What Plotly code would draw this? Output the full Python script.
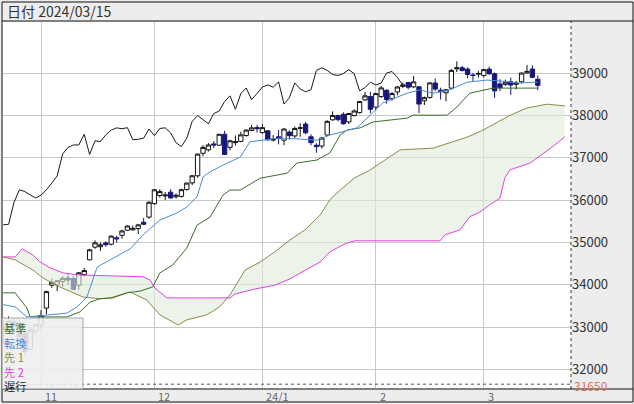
import plotly.graph_objects as go

# bar counter: 0 = 2023/11/01 (trading days only)
day_no = list(range(-7, 93))

opens = [33020, 32990, 33120, 33000, 32850, 32480, 32900,
         33050, 33450, 33990, 34000, 34080, 34160, 34150, 33990, 34240, 34590,
         34890, 34900, 34990, 34960, 35110, 35170, 35290, 35300, 35330, 35480, 35600,
         35920, 36110, 36100, 36190, 36080, 36090, 36250, 36410, 36577, 37110,
         37190, 37330, 37300, 37560, 37250, 37360, 37390, 37530, 37650, 37720,
         37600, 37640, 37420, 37500, 37420, 37610, 37520, 37700, 37800, 37500,
         37300, 37280, 37540, 37900, 38000, 38030, 37850, 38000, 38070, 38370, 38450,
         38200, 38450, 38600, 38400, 38560, 38690, 38780, 38680, 38680, 38350,
         38430, 38770, 38600, 38540, 38650, 39105, 39130, 39100, 38960, 38980,
         38950, 39100, 38990, 38750, 38740, 38800, 38740, 38800, 39010, 39100, 38860]
highs = [33160, 33250, 33200, 33160, 32950, 32980, 33060,
         33400, 33860, 34150, 34110, 34200, 34250, 34200, 34300, 34400, 34850,
         35050, 35000, 35030, 35160, 35160, 35300, 35400, 35400, 35440, 35580, 35970,
         36260, 36260, 36190, 36260, 36160, 36270, 36410, 36590, 37100, 37300,
         37350, 37400, 37570, 37640, 37430, 37530, 37620, 37680, 37780, 37780,
         37800, 37660, 37540, 37660, 37700, 37650, 37740, 37820, 37850, 37560,
         37350, 37500, 37890, 38100, 38020, 38080, 38060, 38150, 38340, 38560, 38560,
         38540, 38700, 38620, 38560, 38700, 38780, 38800, 38940, 38700, 38450,
         38790, 38880, 38660, 38620, 39100, 39282, 39180, 39140, 39010, 39060,
         39100, 39160, 39020, 38860, 38850, 38900, 38820, 39020, 39200, 39190, 38950]
lows = [32600, 32920, 32970, 32750, 32327, 32470, 32830,
        32950, 33300, 33930, 33850, 33950, 34000, 33870, 33880, 34200, 34580,
        34850, 34800, 34900, 34930, 35000, 35090, 35280, 35280, 35200, 35410, 35560,
        35890, 36060, 36000, 36040, 36040, 36060, 36230, 36360, 36530, 37040,
        37150, 37230, 37290, 37070, 37180, 37290, 37370, 37500, 37630, 37600,
        37570, 37400, 37390, 37320, 37300, 37430, 37470, 37500, 37560, 37300,
        37120, 37220, 37520, 37880, 37860, 37785, 37800, 37980, 38050, 38350, 38060,
        38130, 38420, 38280, 38350, 38480, 38650, 38620, 38650, 38060, 38250,
        38400, 38580, 38380, 38340, 38620, 39030, 39040, 38880, 38810, 38900,
        38900, 38960, 38420, 38580, 38700, 38490, 38620, 38760, 38990, 38880, 38600]
closes = [32936, 33141, 33035, 32784, 32418, 32929, 33053,
          33275, 33839, 34061, 34096, 34153, 34112, 33892, 34283, 34337, 34828,
          34991, 34945, 34947, 35151, 35088, 35273, 35390, 35334, 35417, 35430, 35951,
          36246, 36204, 36124, 36054, 36117, 36248, 36405, 36578, 37090, 37248,
          37306, 37306, 37558, 37082, 37404, 37386, 37545, 37657, 37710, 37690,
          37715, 37430, 37440, 37466, 37683, 37525, 37696, 37711, 37593, 37361,
          37267, 37469, 37864, 38002, 37905, 37806, 38049, 38109, 38333, 38467, 38150,
          38520, 38654, 38380, 38521, 38677, 38726, 38671, 38797, 38273, 38424,
          38773, 38628, 38564, 38612, 39069, 39131, 39069, 38972, 38949, 38996,
          39087, 38990, 38585, 38661, 38791, 38723, 38770, 39006, 39043, 38906, 38715]

chikou_shift = 25

# 基準 (kijun)
kijun_x = [-7, -4.8, -2.6, -2, 4.8, 7.2, 9.1, 10.9, 13.3, 15.9, 18.3, 20.7, 22, 24.4, 27,
           28.9, 31.3, 33.7, 35, 36.9, 40.6, 45.6, 47.4, 51.1, 53.5, 55.4, 56.7, 59.1,
           61.5, 67.8, 68.9, 75.2, 77, 79.4, 83.7, 92]
kijun_y = [33810, 33810, 33450, 33240, 33240, 33360, 33590, 33670, 33690, 33810, 33850,
           33950, 34280, 34470, 34870, 35410, 35600, 36120, 36240, 36240, 36520, 36640,
           36880, 36950, 37120, 37540, 37660, 37710, 37850, 37940, 38010, 38010, 38200,
           38530, 38650, 38650]

# 転換 (tenkan)
tenkan_x = [-7, -4.8, -2.6, 4.8, 6.7, 8.5, 9.6, 10.4, 12.8, 15.2, 16.5, 18.9, 22, 25.2,
            27, 28.9, 30, 31.3, 33.7, 36.9, 38.7, 41.1, 44.3, 47.4, 51.1, 53.5, 56.7,
            58.5, 61.5, 63.3, 67.8, 70.2, 72.6, 75.7, 78.9, 82.6, 85, 88.1, 92]
tenkan_y = [33530, 33480, 33240, 33330, 33480, 33710, 34120, 34420, 34590, 34750, 34850,
            35180, 35530, 35700, 35840, 36080, 36550, 36670, 36830, 37020, 37380, 37420,
            37470, 37450, 37420, 37540, 37640, 37710, 38080, 38300, 38530, 38610, 38530,
            38610, 38790, 38840, 38820, 38770, 38790]

# 先行1 (senkou A)
senkou_a_x = [-7, -4.8, -1.5, 0.4, 3.1, 4.8, 7.8, 10.9, 12.8, 14.1, 16.5, 19.6, 22, 25.4,
              27, 30.7, 33.1, 35, 37.8, 40.6, 43.3, 46.1, 48.9, 51.7, 53.5, 55.4, 58.1,
              60.9, 63.7, 66.5, 72.6, 78.9, 81.9, 86.9, 90, 93, 93.7, 97]
senkou_a_y = [34660, 34590, 34350, 34160, 33970, 33880, 33710, 33670, 33690, 33740, 33830,
              33640, 33290, 33050, 33170, 33290, 33480, 33760, 34350, 34540, 34780, 35060,
              35300, 35650, 36010, 36240, 36530, 36710, 36950, 37190, 37230, 37490, 37660,
              38010, 38180, 38250, 38270, 38230]

# 先行2 (senkou B)
senkou_b_x = [-7, -4.8, -3.5, -1.5, -0.2, 1.7, 4.1, 7.2, 18.9, 20.2, 21.1, 22.6, 23.3, 35,
              35.9, 39.6, 43.3, 46.1, 48.9, 51.7, 53.5, 56.3, 58.1, 73.9, 74.8, 77.6,
              79.4, 81.3, 83.1, 85, 85.9, 86.9, 90.6, 93.3, 95.2, 97]
senkou_b_y = [34660, 34660, 34850, 34705, 34540, 34400, 34280, 34230, 34190, 34110, 33920,
              33760, 33690, 33690, 33780, 33900, 33990, 34140, 34350, 34540, 34780, 34970,
              35040, 35040, 35180, 35300, 35610, 35720, 35890, 36050, 36530, 36720, 36880,
              37120, 37310, 37500]

month_ticks = [0, 21, 41, 62, 82]
month_labels = ["11", "12", "24/1", "2", "3"]
price_ticks = [32000, 33000, 34000, 35000, 36000, 37000, 38000, 39000]
low_mark = 31650

C_KIJUN = "#3b6e2c"
C_TENKAN = "#4a8cd6"
C_SPAN_A = "#8c8a48"
C_SPAN_B = "#e040e0"
C_DOWN = "#16167c"

fig = go.Figure()

# cloud
fig.add_trace(go.Scatter(x=senkou_b_x, y=senkou_b_y, mode="lines",
                         line=dict(color=C_SPAN_B, width=1), hoverinfo="skip"))
fig.add_trace(go.Scatter(x=senkou_a_x, y=senkou_a_y, mode="lines",
                         line=dict(color=C_SPAN_A, width=1), fill="tonexty",
                         fillcolor="rgba(224,236,220,0.6)", hoverinfo="skip"))
fig.add_trace(go.Scatter(x=kijun_x, y=kijun_y, mode="lines",
                         line=dict(color=C_KIJUN, width=1)))
fig.add_trace(go.Scatter(x=tenkan_x, y=tenkan_y, mode="lines",
                         line=dict(color=C_TENKAN, width=1)))
# 遅行 = close shifted back
fig.add_trace(go.Scatter(x=[d - chikou_shift for d in day_no], y=closes, mode="lines",
                         line=dict(color="#1a1a1a", width=1)))

fig.add_trace(go.Candlestick(
    x=day_no, open=opens, high=highs, low=lows, close=closes,
    increasing=dict(line=dict(color="#111111", width=1), fillcolor="white"),
    decreasing=dict(line=dict(color=C_DOWN, width=1), fillcolor=C_DOWN),
    whiskerwidth=0))

W, H = 568.0, 366.0


def px(v):
    return (v - 3) / W


def py(v):
    return (388 - v) / H


shapes = [
    # low price dashed line
    dict(type="line", xref="paper", yref="y", x0=0, x1=1, y0=low_mark, y1=low_mark,
         line=dict(color="#555555", width=1, dash="dot")),
    # right border of plot
    dict(type="line", xref="paper", yref="paper", x0=1, x1=1, y0=py(389), y1=py(21),
         line=dict(color="#333333", width=1, dash="dot")),
    # top bar / bottom band borders
    dict(type="line", xref="paper", yref="paper", x0=px(2), x1=px(633), y0=py(21), y1=py(21),
         line=dict(color="#111111", width=1)),
    dict(type="line", xref="paper", yref="paper", x0=px(2), x1=px(633), y0=py(389), y1=py(389),
         line=dict(color="#111111", width=1)),
    dict(type="rect", xref="paper", yref="paper", x0=px(2), x1=px(633), y0=py(402), y1=py(2),
         line=dict(color="#111111", width=1)),
    # legend box
    dict(type="rect", xref="paper", yref="paper", x0=px(2), x1=px(83), y0=py(389), y1=py(318),
         fillcolor="#efefef", opacity=0.88, layer="above",
         line=dict(color="#9a9a9a", width=1)),
]

annotations = [
    dict(text="日付 2024/03/15", xref="paper", yref="paper", x=px(5), y=py(11),
         xanchor="left", yanchor="middle", showarrow=False,
         font=dict(size=14, color="#333333")),
    dict(text=str(low_mark), xref="paper", yref="y", x=1, y=low_mark, xanchor="left",
         yanchor="middle", xshift=2, yshift=-1, borderpad=0, showarrow=False,
         font=dict(size=12, color="#e0785a")),
]
for t, lab in zip(month_ticks, month_labels):
    annotations.append(dict(text=lab, xref="x", yref="paper", x=t, y=py(396),
                            xanchor="left", yanchor="middle", xshift=2, showarrow=False,
                            font=dict(size=11, color="#666666")))

legend_rows = [("基準", C_KIJUN), ("転換", C_TENKAN), ("先 1", C_SPAN_A),
               ("先 2", C_SPAN_B), ("遅行", "#222222")]
legend_text = "<br>".join('<span style="color:%s">%s</span>' % (c, t) for t, c in legend_rows)
annotations.append(dict(text=legend_text, xref="paper", yref="paper", x=px(3), y=py(319),
                        xanchor="left", yanchor="top", align="left", showarrow=False,
                        borderpad=0, font=dict(size=11.2, color="#222222")))

fig.update_layout(
    width=634, height=404,
    margin=dict(l=3, r=63, t=22, b=16),
    paper_bgcolor="#ededed", plot_bgcolor="white",
    showlegend=False,
    boxgap=0.2, boxgroupgap=0,
    font=dict(family="Noto Sans CJK JP, Noto Sans, sans-serif"),
    xaxis=dict(range=[-7.04, 98.15], tickvals=month_ticks, showticklabels=False,
               showgrid=True, gridcolor="#c8c8c8", gridwidth=1, zeroline=False,
               showline=False, ticks="", rangeslider=dict(visible=False)),
    yaxis=dict(range=[31560, 40213], side="right", tickvals=price_ticks,
               tickformat="d", showgrid=True, gridcolor="#c8c8c8", gridwidth=1,
               zeroline=False, showline=False, ticks="",
               tickfont=dict(size=13, color="#333333")),
    shapes=shapes,
    annotations=annotations,
)

fig.write_html("out.html", post_script="document.body.style.margin='0';",
               config={"displayModeBar": False})
